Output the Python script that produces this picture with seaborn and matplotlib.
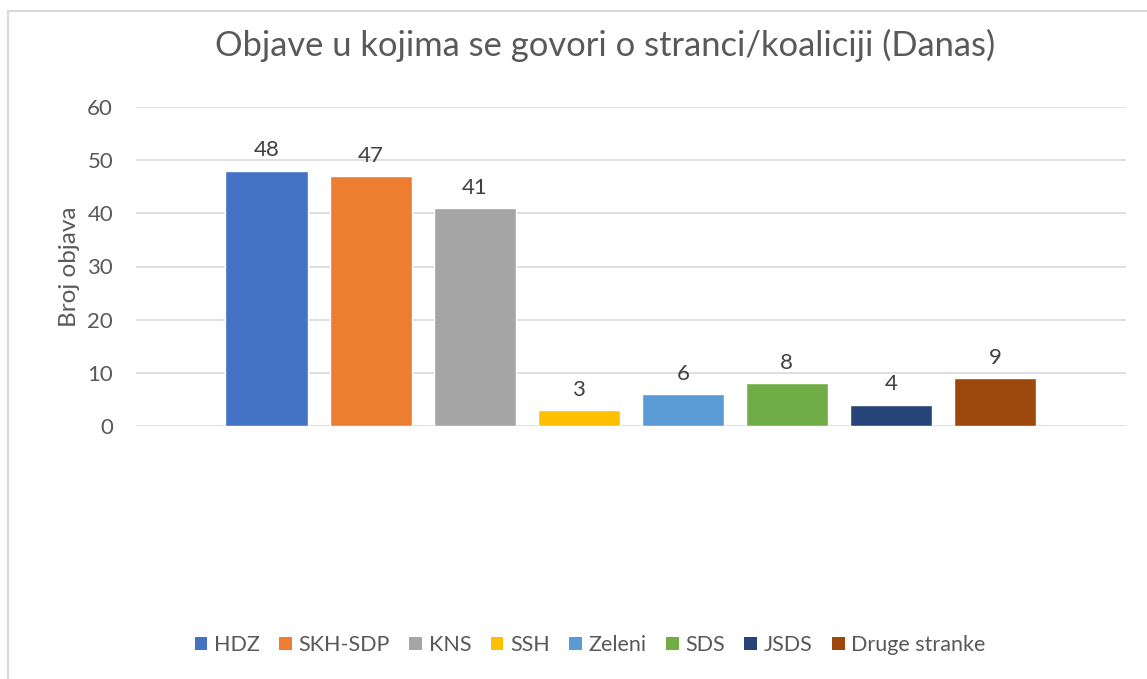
import numpy as np
import pandas as pd
import seaborn as sns
import matplotlib.pyplot as plt
from matplotlib.lines import Line2D
from matplotlib.patches import Patch

# data
parties = ["HDZ", "SKH-SDP", "KNS", "SSH", "Zeleni", "SDS", "JSDS", "Druge stranke"]
counts = [48, 47, 41, 3, 6, 8, 4, 9]
colors = ["#4472C4", "#ED7D31", "#A5A5A5", "#FFC000", "#5B9BD5", "#70AD47", "#264478", "#9E480E"]
y_ticks = [0, 10, 20, 30, 40, 50, 60]

title = "Objave u kojima se govori o stranci/koaliciji (Danas)"
y_label = "Broj objava"

df = pd.DataFrame({"party": parties, "count": counts})

sns.set_style("white")
plt.rcParams["font.family"] = ["Lato", "DejaVu Sans"]
text_col = "#595959"

W, H = 1147, 679
fig = plt.figure(figsize=(W / 100, H / 100), dpi=100)
ax = fig.add_axes([136 / W, 1 - 426 / H, (1126 - 136) / W, (426 - 107) / H])

sns.barplot(data=df, x="party", y="count", hue="party", palette=colors,
            dodge=False, width=0.788, legend=False, ax=ax, saturation=1)

ax.set_xlim(-1.254, 8.259)
ax.set_ylim(0, 60)
ax.set_yticks(y_ticks)
ax.set_yticklabels([str(t) for t in y_ticks], fontsize=16, color=text_col)
ax.set_xticks([])
ax.set_xlabel("")
ax.set_ylabel(y_label, fontsize=17.5, color=text_col, labelpad=5)
ax.tick_params(axis="y", length=0, pad=16.5)
ax.grid(axis="y", color="#D9D9D9", linewidth=1.2)
ax.set_axisbelow(True)
for s in ax.spines.values():
    s.set_visible(False)

# data labels
for cont in ax.containers:
    ax.bar_label(cont, fmt="%d", padding=7.5, fontsize=16, color="#404040")

# title
fig.text(605 / W, 1 - 45 / H, title, ha="center", va="center", fontsize=24.8, color=text_col)

# legend
handles = [Patch(facecolor=c, edgecolor="none") for c in colors]
fig.legend(handles, parties, loc="center", bbox_to_anchor=(590 / W, 1 - 645 / H),
           ncol=len(parties), frameon=False, fontsize=15.5, handlelength=0.6,
           handleheight=0.6, handletextpad=0.3, columnspacing=0.9,
           labelcolor=text_col)

# chart border
fig.add_artist(Line2D([8 / W, 8 / W], [0, 1 - 11 / H], transform=fig.transFigure,
                      color="#D9D9D9", linewidth=1.5))
fig.add_artist(Line2D([8 / W, 1], [1 - 11 / H, 1 - 11 / H], transform=fig.transFigure,
                      color="#D9D9D9", linewidth=1.5))

fig.savefig("out.png", dpi=100)
